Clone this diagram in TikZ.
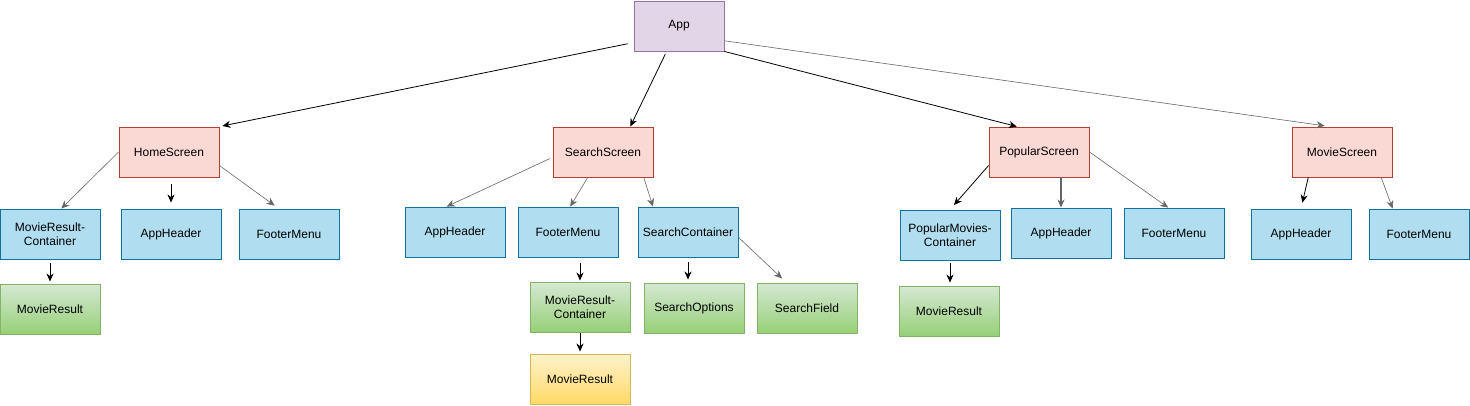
\documentclass[tikz,border=0pt]{standalone}
\usepackage{fontspec}
\setmainfont{Liberation Sans}
\usetikzlibrary{arrows.meta}

\definecolor{appfill}{HTML}{E1D5E7}
\definecolor{appline}{HTML}{9673A6}
\definecolor{screenfill}{HTML}{FAD9D5}
\definecolor{screenline}{HTML}{AE4132}
\definecolor{partfill}{HTML}{B1DDF0}
\definecolor{partline}{HTML}{10739E}
\definecolor{leaftop}{HTML}{D5E8D4}
\definecolor{leafbot}{HTML}{97D077}
\definecolor{leafline}{HTML}{82B366}
\definecolor{itemtop}{HTML}{FFF2CC}
\definecolor{itembot}{HTML}{FFD966}
\definecolor{itemline}{HTML}{D6B656}

\tikzset{
    box/.style={draw, line width=0.9pt, minimum width=100pt, minimum height=50pt,
        inner sep=0pt, align=center, font=\fontsize{12}{14}\selectfont},
    appbox/.style={box, minimum width=90pt, fill=appfill, draw=appline},
    screenbox/.style={box, fill=screenfill, draw=screenline},
    partbox/.style={box, fill=partfill, draw=partline},
    leafbox/.style={box, top color=leaftop, bottom color=leafbot, draw=leafline},
    itembox/.style={box, top color=itemtop, bottom color=itembot, draw=itemline},
    link/.style={-{Stealth[length=8pt, width=7pt, inset=2.5pt]}, line width=0.8pt, black},
    greylink/.style={link, line width=0.6pt, black!60}
}

\begin{document}
\begin{tikzpicture}[x=1pt, y=-1pt]
    \useasboundingbox (0,0) rectangle (1470,405);

    % Draw the root
    \node[appbox] (App) at (679,26) {App};

    % Draw the screens
    \node[screenbox] (Home) at (169,152) {HomeScreen};
    \node[screenbox] (Search) at (603,152) {SearchScreen};
    \node[screenbox] (Popular) at (1039,152) {PopularScreen};
    \node[screenbox] (Movie) at (1342,152) {MovieScreen};

    % Parts of HomeScreen
    \node[partbox] (HomeResults) at (50,234) {MovieResult-\\Container};
    \node[partbox] (HomeHeader) at (171,234) {AppHeader};
    \node[partbox] (HomeFooter) at (289,234) {FooterMenu};
    \node[leafbox] (HomeResult) at (50,309) {MovieResult};

    % Parts of SearchScreen
    \node[partbox] (SearchHeader) at (455,232) {AppHeader};
    \node[partbox] (SearchFooter) at (568,232) {FooterMenu};
    \node[partbox] (SearchBox) at (688,232) {SearchContainer};
    \node[leafbox] (SearchResults) at (580,307) {MovieResult-\\Container};
    \node[leafbox] (SearchOptions) at (694,308) {SearchOptions};
    \node[leafbox] (SearchField) at (807,308) {SearchField};
    \node[itembox] (SearchResult) at (580,379) {MovieResult};

    % Parts of PopularScreen
    \node[partbox] (PopularResults) at (950,235) {PopularMovies-\\Container};
    \node[partbox] (PopularHeader) at (1061,233) {AppHeader};
    \node[partbox] (PopularFooter) at (1174,233) {FooterMenu};
    \node[leafbox] (PopularResult) at (949,311) {MovieResult};

    % Parts of MovieScreen
    \node[partbox] (MovieHeader) at (1301,234) {AppHeader};
    \node[partbox] (MovieFooter) at (1419,234) {FooterMenu};

    % Arrows from the root
    \draw[link, shorten <=6pt, shorten >=3pt] (App.200) -- (Home.north east);
    \draw[link, shorten <=3pt] (App.244) -- (Search.43);
    \draw[link] (App.south east) -- (Popular.131);
    \draw[greylink, shorten >=5pt] (App.342) -- (Movie.116);

    % Arrows of HomeScreen
    \draw[greylink] (Home.west) -- (HomeResults.66);
    \draw[link, shorten <=7pt, shorten >=6pt] (Home.south -| HomeHeader.north) -- (HomeHeader.north);
    \draw[greylink, shorten >=5pt] (Home.345) -- (HomeFooter.112);
    \draw[link, shorten <=4pt, shorten >=2pt] (HomeResults.south) -- (HomeResult.north);

    % Arrows of SearchScreen
    \draw[greylink, shorten <=3pt] (Search.186) -- (SearchHeader.108);
    \draw[greylink] (Search.239) -- (SearchFooter.85);
    \draw[greylink] (Search.328) -- (SearchBox.144);
    \draw[link, shorten <=6pt, shorten >=1pt] (SearchFooter.south -| SearchResults.north) -- (SearchResults.north);
    \draw[link, shorten <=5pt, shorten >=3pt] (SearchBox.south) -- (SearchBox.south |- SearchOptions.north);
    \draw[greylink, shorten >=6pt] (SearchBox.354) -- (SearchField.129);
    \draw[link, shorten <=1pt, shorten >=2pt] (SearchResults.south) -- (SearchResult.north);

    % Arrows of PopularScreen
    \draw[link, shorten >=6pt] (Popular.195) -- (PopularResults.north);
    \draw[link, line width=1.4pt, black!60] (Popular.south -| PopularHeader.north) -- (PopularHeader.north);
    \draw[greylink] (Popular.east) -- (PopularFooter.103);
    \draw[link, shorten <=3pt, shorten >=3pt] (PopularResults.south) -- (PopularResults.south |- PopularResult.north);

    % Arrows of MovieScreen
    \draw[link, shorten >=6pt] (Movie.217) -- (MovieHeader.north);
    \draw[greylink] (Movie.327) -- (MovieFooter.136);
\end{tikzpicture}
\end{document}
